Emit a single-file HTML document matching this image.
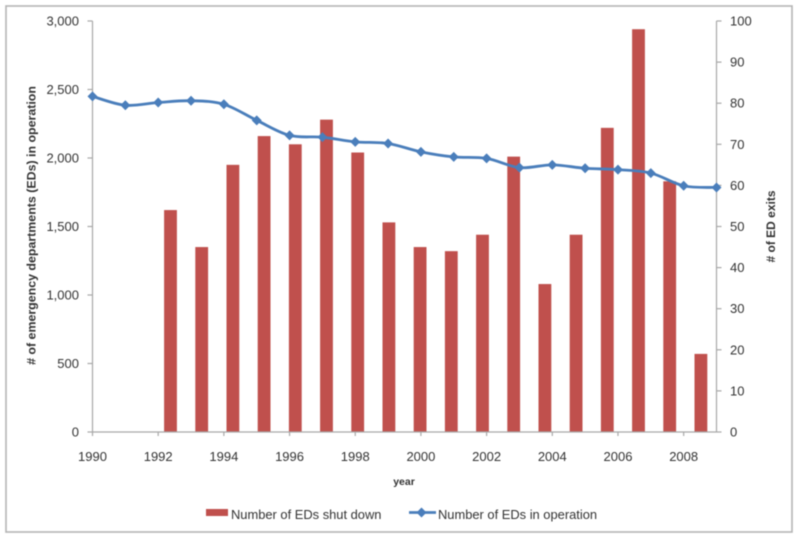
<!DOCTYPE html>
<html>
<head>
<meta charset="utf-8">
<style>
html,body{margin:0;padding:0;background:#fff}
svg{display:block;filter:blur(0.5px)}
text{font-family:"Liberation Sans",sans-serif;fill:#333}
</style>
</head>
<body>
<svg id="chart" xmlns="http://www.w3.org/2000/svg" width="800" height="539" viewBox="0 0 800 539"></svg>
<script>
const lineYears = [1990,1991,1992,1993,1994,1995,1996,1997,1998,1999,2000,2001,2002,2003,2004,2005,2006,2007,2008,2009];
const edsInOperation = [2450,2385,2405,2418,2392,2275,2165,2152,2118,2106,2045,2008,1997,1930,1950,1925,1915,1890,1797,1785];
const barYears = [1992,1993,1994,1995,1996,1997,1998,1999,2000,2001,2002,2003,2004,2005,2006,2007,2008,2009];
const edsShutDown = [54,45,65,72,70,76,68,51,45,44,48,67,36,48,74,98,61,19];
const leftTicks = [0,500,1000,1500,2000,2500,3000];
const rightTicks = [0,10,20,30,40,50,60,70,80,90,100];
const xTicks = [1990,1992,1994,1996,1998,2000,2002,2004,2006,2008];

const NS = 'http://www.w3.org/2000/svg';
const svg = document.getElementById('chart');
const plot = {left:92.5,right:716.5,top:21,bottom:432};
const xLine = v => plot.left + (v-1990)/(2009-1990)*(plot.right-plot.left);
const xBar = v => plot.left + (v-1990+0.5)/20*(plot.right-plot.left);
const yLeft = v => plot.bottom - v/3000*(plot.bottom-plot.top);
const yRight = v => plot.bottom - v/100*(plot.bottom-plot.top);
function mk(tag, attrs, text){
  const el = document.createElementNS(NS, tag);
  for(const k in attrs) el.setAttribute(k, attrs[k]);
  if(text !== undefined) el.textContent = text;
  svg.appendChild(el);
  return el;
}
const axisColor = '#a8a8a8';
let el;

el = mk('rect',{x:6,y:6,width:786,height:526,fill:'#fff',stroke:'#b4b4b4','stroke-width':1.6});



barYears.forEach((yr,i)=>{
  const r = mk('rect',{x:xBar(yr)-6.4,y:yRight(edsShutDown[i]),width:12.8,height:plot.bottom-yRight(edsShutDown[i]),fill:'#c0504d'});
  
  
});

el = mk('line',{x1:plot.left,y1:plot.top,x2:plot.left,y2:plot.bottom,stroke:axisColor,'stroke-width':1.2});


el = mk('line',{x1:plot.right,y1:plot.top,x2:plot.right,y2:plot.bottom,stroke:axisColor,'stroke-width':1.2});


el = mk('line',{x1:plot.left,y1:plot.bottom,x2:plot.right,y2:plot.bottom,stroke:axisColor,'stroke-width':1.2});



leftTicks.forEach(v=>{
  const y = yLeft(v);
  const t = mk('line',{x1:plot.left-5,y1:y,x2:plot.left,y2:y,stroke:axisColor,'stroke-width':1.2});
  
  
  const l = mk('text',{x:79,y:y+4.5,'text-anchor':'end','font-size':13}, v.toLocaleString('en-US'));
  
  
});
rightTicks.forEach(v=>{
  const y = yRight(v);
  const t = mk('line',{x1:plot.right,y1:y,x2:plot.right+5,y2:y,stroke:axisColor,'stroke-width':1.2});
  
  
  const l = mk('text',{x:730,y:y+4.5,'font-size':13}, String(v));
  
  
});
xTicks.forEach(v=>{
  const x = xLine(v);
  const t = mk('line',{x1:x,y1:plot.bottom,x2:x,y2:plot.bottom+4,stroke:axisColor,'stroke-width':1.2});
  
  
  const l = mk('text',{x:x,y:461,'text-anchor':'middle','font-size':13}, String(v));
  
  
});

const pts = lineYears.map((yr,i)=>[xLine(yr),yLeft(edsInOperation[i])]);
let d = 'M'+pts[0][0]+' '+pts[0][1];
for(let i=0;i<pts.length-1;i++){
  const p0=pts[Math.max(i-1,0)],p1=pts[i],p2=pts[i+1],p3=pts[Math.min(i+2,pts.length-1)];
  d += ' C'+(p1[0]+(p2[0]-p0[0])/6)+' '+(p1[1]+(p2[1]-p0[1])/6)+' '+(p2[0]-(p3[0]-p1[0])/6)+' '+(p2[1]-(p3[1]-p1[1])/6)+' '+p2[0]+' '+p2[1];
}
el = mk('path',{d:d,fill:'none',stroke:'#4a7ebb','stroke-width':2.8});


pts.forEach(p=>{
  const m = mk('polygon',{points:(p[0]-5)+','+p[1]+' '+p[0]+','+(p[1]-5)+' '+(p[0]+5)+','+p[1]+' '+p[0]+','+(p[1]+5),fill:'#4a7ebb'});
  
  
});

el = mk('text',{x:404,y:485,'text-anchor':'middle','font-size':10.5,'font-weight':'bold'},'year');


el = mk('text',{transform:'translate(35.5,225.5) rotate(-90)','text-anchor':'middle','font-size':12.4,'font-weight':'bold'},'# of emergency departments (EDs) in operation');


el = mk('text',{transform:'translate(775,226.5) rotate(-90)','text-anchor':'middle','font-size':12,'font-weight':'bold'},'# of ED exits');



el = mk('rect',{x:206,y:509,width:22,height:7,fill:'#c0504d'});


el = mk('text',{x:231,y:519,'font-size':12.9},'Number of EDs shut down');


el = mk('line',{x1:409,y1:512.5,x2:436,y2:512.5,stroke:'#4a7ebb','stroke-width':2.8});


el = mk('polygon',{points:'416.5,512.5 421.5,507.5 426.5,512.5 421.5,517.5',fill:'#4a7ebb'});


el = mk('text',{x:438,y:519,'font-size':12.9},'Number of EDs in operation');


</script>
</body>
</html>
